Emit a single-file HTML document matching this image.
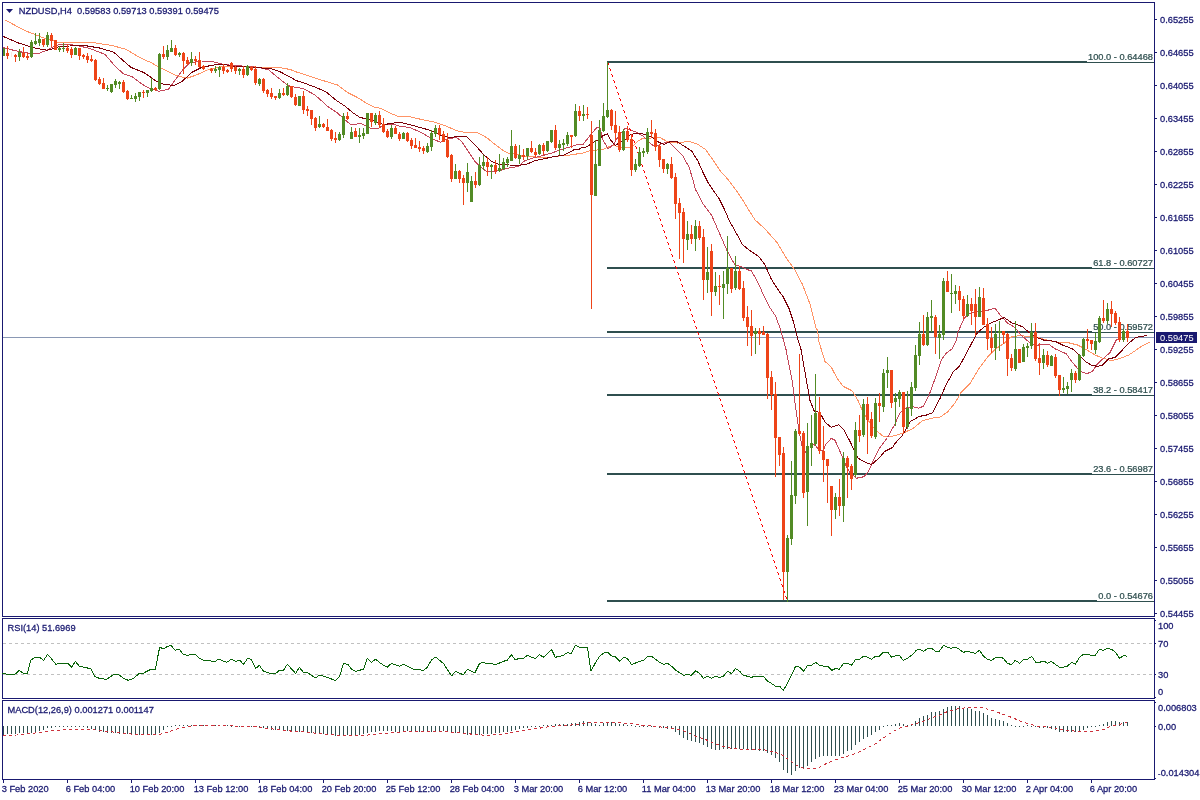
<!DOCTYPE html>
<html lang="en"><head><meta charset="utf-8"><title>NZDUSD,H4</title>
<style>html,body{margin:0;padding:0;background:#fff;}body{width:1200px;height:800px;overflow:hidden;font-family:"Liberation Sans",Arial,sans-serif;}svg{display:block}</style>
</head><body>
<svg width="1200" height="800" viewBox="0 0 1200 800" font-family="'Liberation Sans', Arial, sans-serif">
<defs><clipPath id="cm"><rect x="3" y="3" width="1151" height="613"/></clipPath></defs>
<rect x="2" y="2" width="1153" height="1" fill="#191970"/>
<rect x="2" y="616" width="1153" height="1" fill="#191970"/>
<rect x="2" y="2" width="1" height="615" fill="#191970"/>
<rect x="1154" y="2" width="1" height="615" fill="#191970"/>
<rect x="2" y="618" width="1153" height="1" fill="#191970"/>
<rect x="2" y="698" width="1153" height="1" fill="#191970"/>
<rect x="2" y="618" width="1" height="81" fill="#191970"/>
<rect x="1154" y="618" width="1" height="81" fill="#191970"/>
<rect x="2" y="700" width="1153" height="1" fill="#191970"/>
<rect x="2" y="779" width="1153" height="1" fill="#191970"/>
<rect x="2" y="700" width="1" height="80" fill="#191970"/>
<rect x="1154" y="700" width="1" height="80" fill="#191970"/>
<g clip-path="url(#cm)">
<rect x="3" y="337" width="1151" height="1" fill="#8A98B4"/>
<rect x="607" y="61" width="480" height="2" fill="#2F4F4F" shape-rendering="crispEdges"/>
<rect x="1087" y="62" width="67" height="1" fill="#2F4F4F" shape-rendering="crispEdges"/>
<rect x="607" y="267" width="485" height="2" fill="#2F4F4F" shape-rendering="crispEdges"/>
<rect x="1092" y="268" width="62" height="1" fill="#2F4F4F" shape-rendering="crispEdges"/>
<rect x="607" y="331" width="485" height="2" fill="#2F4F4F" shape-rendering="crispEdges"/>
<rect x="1092" y="332" width="62" height="1" fill="#2F4F4F" shape-rendering="crispEdges"/>
<rect x="607" y="394" width="485" height="2" fill="#2F4F4F" shape-rendering="crispEdges"/>
<rect x="1092" y="395" width="62" height="1" fill="#2F4F4F" shape-rendering="crispEdges"/>
<rect x="607" y="473" width="485" height="2" fill="#2F4F4F" shape-rendering="crispEdges"/>
<rect x="1092" y="474" width="62" height="1" fill="#2F4F4F" shape-rendering="crispEdges"/>
<rect x="607" y="600" width="490" height="2" fill="#2F4F4F" shape-rendering="crispEdges"/>
<rect x="1097" y="601" width="57" height="1" fill="#2F4F4F" shape-rendering="crispEdges"/>
<g fill="#2F4F4F" stroke="#2F4F4F" stroke-width="0.25" font-size="9.6px"><text transform="translate(1153,60.1) scale(0.967,1)" text-anchor="end">100.0 - 0.64468</text><text transform="translate(1153,266.1) scale(0.967,1)" text-anchor="end">61.8 - 0.60727</text><text transform="translate(1153,330.1) scale(0.967,1)" text-anchor="end">50.0 - 0.59572</text><text transform="translate(1153,393.1) scale(0.967,1)" text-anchor="end">38.2 - 0.58417</text><text transform="translate(1153,472.1) scale(0.967,1)" text-anchor="end">23.6 - 0.56987</text><text transform="translate(1153,599.1) scale(0.967,1)" text-anchor="end">0.0 - 0.54676</text></g>
<polyline points="5.0,20.0 25.0,30.6 42.5,37.5 58.8,42.5 75.0,42.2 92.5,42.5 112.5,45.6 126.2,49.4 137.5,56.2 147.5,61.2 149.8,61.9 158.5,66.9 176.0,75.6 187.2,78.1 196.0,75.2 208.5,69.4 221.0,66.9 233.5,66.2 246.0,66.5 258.5,67.2 271.0,67.5 283.5,68.1 291.0,69.8 296.2,71.9 302.5,73.8 315.0,78.1 327.5,81.9 337.5,85.0 347.5,92.5 357.5,97.5 367.5,103.8 375.0,107.5 380.0,108.1 390.0,113.1 397.5,116.2 408.8,116.5 421.2,119.4 433.8,121.9 441.5,124.4 446.5,126.2 456.5,130.6 465.2,132.5 476.5,132.2 486.5,137.5 496.5,145.6 504.0,151.2 509.0,153.5 515.2,153.8 524.0,156.9 534.0,156.9 546.5,157.8 559.0,156.0 566.5,155.6 577.8,153.8 583.0,153.1 590.5,150.6 603.0,149.4 613.0,145.0 619.2,146.9 630.5,148.1 638.0,141.2 643.0,138.1 650.5,138.1 659.2,137.2 668.0,141.9 678.0,143.1 688.0,141.2 696.8,143.8 705.5,149.4 713.0,160.0 720.5,171.2 728.0,179.4 738.0,193.0 744.0,202.0 750.0,212.1 755.2,220.0 765.0,229.0 777.0,242.5 786.0,257.5 795.0,270.2 802.5,284.5 810.0,304.0 816.0,328.0 817.5,330.0 819.0,342.0 825.0,361.5 831.0,366.7 837.0,378.0 843.0,386.2 852.0,390.7 858.0,400.5 862.5,411.0 870.0,423.0 876.0,430.5 883.5,436.5 891.0,436.5 897.0,435.0 904.0,432.7 913.0,428.5 922.0,421.0 931.0,418.3 940.0,417.2 947.5,412.0 955.0,403.0 961.0,392.5 970.0,383.5 979.0,368.5 988.0,356.5 995.5,349.0 1004.5,343.0 1006.0,341.7 1012.0,336.5 1019.5,335.7 1030.0,336.5 1037.5,337.2 1045.0,339.5 1055.0,341.9 1067.5,342.5 1077.5,345.0 1085.0,348.8 1095.0,355.0 1102.5,358.1 1111.2,360.6 1120.0,358.5 1128.8,355.0 1136.2,350.0 1142.5,345.6 1150.6,341.9" fill="none" stroke="#FF9466" stroke-width="1" stroke-linejoin="round" shape-rendering="crispEdges"/>
<polyline points="2.5,47.2 12.5,50.0 25.0,52.8 37.5,53.8 45.0,51.0 52.5,47.2 60.0,44.4 68.8,44.4 77.5,45.6 90.0,48.5 105.0,54.4 115.0,66.2 123.8,74.0 132.5,76.9 142.5,84.4 148.5,87.8 158.5,91.2 168.5,89.4 176.0,78.8 183.5,68.8 189.8,62.8 201.0,61.0 211.0,61.2 221.0,63.8 233.5,65.6 246.0,66.2 258.5,67.5 268.5,69.8 278.5,78.1 287.2,84.8 290.0,86.2 303.8,88.8 315.0,95.0 327.5,106.2 337.5,113.1 343.8,118.8 351.2,125.0 356.2,124.4 360.0,123.1 365.0,125.6 371.2,128.8 377.5,128.8 383.8,125.0 392.5,124.0 400.0,126.2 410.0,127.5 421.2,132.5 430.0,137.5 434.0,139.4 440.2,142.2 447.8,138.8 456.5,137.5 461.5,141.2 469.0,152.5 475.2,161.9 481.5,167.5 486.5,171.5 492.8,171.9 501.5,170.0 509.0,168.1 519.0,166.2 524.0,161.2 531.5,158.5 540.2,156.2 551.5,153.1 561.5,149.4 570.2,146.9 576.5,144.8 578.0,144.4 583.0,144.4 590.5,135.0 596.8,127.5 599.9,128.1 603.0,140.0 608.0,148.8 613.0,145.0 619.2,135.0 625.5,128.1 630.5,129.8 636.8,132.5 643.0,136.2 650.5,143.8 655.5,146.9 663.0,143.1 669.2,142.5 675.5,148.8 683.0,156.2 689.2,167.5 693.0,180.0 695.5,190.0 696.8,191.2 703.0,203.8 711.8,215.6 718.0,230.0 727.5,251.5 735.0,265.0 740.2,266.2 746.2,269.2 751.5,271.0 757.5,281.5 763.5,295.0 769.5,307.0 775.5,316.0 780.0,328.0 780.7,330.0 786.0,349.5 792.0,379.5 796.5,414.0 797.5,420.0 799.0,431.3 802.0,445.5 805.0,452.6 809.5,448.5 812.5,444.0 815.5,445.5 819.3,450.8 823.0,450.8 826.0,444.0 831.3,438.4 835.0,440.3 838.8,448.5 842.5,457.5 846.3,466.5 850.0,472.5 856.5,478.2 864.0,476.7 868.5,471.5 873.0,461.0 879.0,449.0 887.5,437.5 895.0,424.0 899.5,413.5 905.5,408.2 913.0,406.7 919.0,408.2 923.5,406.0 929.5,394.0 935.5,377.5 941.5,359.5 946.0,353.5 952.0,349.0 956.5,340.0 958.0,332.0 964.0,318.5 970.0,313.2 979.0,311.7 988.0,310.2 994.7,308.0 1000.0,314.7 1007.5,323.0 1015.0,327.5 1021.0,335.0 1028.5,341.7 1036.0,345.5 1042.0,344.3 1049.5,344.7 1055.0,348.8 1066.2,353.8 1072.5,362.5 1080.0,371.2 1086.9,373.8 1092.5,371.2 1097.5,363.8 1103.8,358.1 1110.0,352.5 1116.2,340.0 1120.0,338.1" fill="none" stroke="#C4485A" stroke-width="1" stroke-linejoin="round" shape-rendering="crispEdges"/>
<polyline points="2.5,36.2 18.8,43.1 35.0,48.1 47.5,50.2 55.0,48.1 60.0,46.2 70.0,46.0 85.0,45.6 100.0,48.1 113.8,52.2 122.5,60.0 131.2,67.5 143.8,72.5 148.5,75.6 156.0,81.2 164.8,84.8 174.8,85.2 182.2,81.2 192.2,72.2 201.0,67.8 211.0,65.4 221.0,64.0 233.5,66.2 246.0,66.9 258.5,67.8 271.0,68.5 281.0,72.2 289.8,76.9 296.2,80.6 306.2,83.8 317.5,88.1 326.2,91.9 335.0,99.4 345.0,106.2 352.5,112.5 360.0,117.5 365.0,118.5 370.0,119.4 377.5,122.5 383.8,124.8 390.0,123.5 400.0,122.2 408.8,124.4 421.2,127.8 431.2,130.6 436.5,133.5 441.5,135.6 450.2,137.5 457.1,136.5 466.5,136.5 475.2,145.0 484.0,155.0 491.5,161.2 499.0,164.4 509.0,165.0 519.0,165.2 526.5,164.4 534.0,161.0 542.8,159.0 552.8,156.9 564.0,155.0 574.0,149.8 579.0,149.5 580.5,148.1 586.8,146.9 593.0,142.5 599.2,139.4 603.0,135.6 607.4,133.8 610.5,140.0 615.5,145.6 619.2,142.5 625.5,139.4 630.5,134.4 638.0,133.1 645.5,134.4 653.0,138.1 659.2,142.5 664.2,144.4 670.5,141.5 676.8,141.5 684.2,146.2 691.8,151.2 698.0,161.2 703.0,172.5 708.0,182.5 713.0,190.0 719.2,198.8 724.2,208.8 729.0,220.0 736.5,233.5 742.5,244.7 750.0,250.7 759.0,256.7 765.0,265.0 771.0,278.5 777.0,288.2 783.0,296.5 789.0,308.5 793.5,322.0 798.0,340.0 801.0,349.5 805.5,375.0 810.0,400.5 814.5,411.7 819.7,412.2 825.0,422.2 831.0,427.2 838.5,424.8 844.5,430.8 850.5,442.5 853.5,449.0 858.0,458.0 864.0,461.7 871.5,464.7 879.0,458.0 885.0,451.2 892.5,447.5 895.0,443.5 902.5,435.2 910.0,421.7 919.0,416.5 926.5,415.0 932.5,412.7 940.0,398.5 946.0,385.0 953.5,371.5 959.5,366.2 965.5,355.0 973.0,340.7 977.5,332.7 983.5,327.5 991.0,323.0 1000.0,319.2 1004.5,317.7 1012.0,323.0 1022.5,326.7 1028.5,332.0 1036.0,337.2 1045.0,340.6 1055.0,341.2 1062.5,345.0 1072.5,348.8 1078.8,355.0 1085.0,361.2 1091.2,365.0 1097.5,366.5 1102.5,365.0 1108.8,358.8 1115.0,357.5 1121.2,351.2 1128.8,343.1 1136.2,337.2 1142.5,336.5 1146.9,335.2" fill="none" stroke="#7A0008" stroke-width="1" stroke-linejoin="round" shape-rendering="crispEdges"/>
<g fill="#FF0000" shape-rendering="crispEdges"><rect x="607" y="62" width="1" height="1"/><rect x="608" y="63" width="1" height="2"/><rect x="609" y="68" width="1" height="1"/><rect x="610" y="69" width="1" height="2"/><rect x="611" y="74" width="1" height="1"/><rect x="612" y="75" width="1" height="2"/><rect x="613" y="80" width="1" height="1"/><rect x="614" y="81" width="1" height="2"/><rect x="615" y="86" width="1" height="1"/><rect x="616" y="87" width="1" height="2"/><rect x="617" y="92" width="1" height="1"/><rect x="618" y="93" width="1" height="2"/><rect x="619" y="98" width="1" height="1"/><rect x="620" y="99" width="1" height="2"/><rect x="621" y="104" width="1" height="1"/><rect x="622" y="105" width="1" height="2"/><rect x="623" y="110" width="1" height="1"/><rect x="624" y="111" width="1" height="2"/><rect x="625" y="116" width="1" height="1"/><rect x="626" y="117" width="1" height="2"/><rect x="627" y="122" width="1" height="1"/><rect x="628" y="123" width="1" height="2"/><rect x="629" y="128" width="1" height="1"/><rect x="630" y="129" width="1" height="2"/><rect x="631" y="134" width="1" height="1"/><rect x="632" y="135" width="1" height="2"/><rect x="633" y="140" width="1" height="1"/><rect x="634" y="141" width="1" height="2"/><rect x="635" y="146" width="1" height="1"/><rect x="636" y="147" width="1" height="2"/><rect x="637" y="152" width="1" height="1"/><rect x="638" y="153" width="1" height="2"/><rect x="639" y="158" width="1" height="1"/><rect x="640" y="159" width="1" height="2"/><rect x="641" y="164" width="1" height="1"/><rect x="642" y="165" width="1" height="2"/><rect x="643" y="170" width="1" height="1"/><rect x="644" y="171" width="1" height="2"/><rect x="645" y="176" width="1" height="1"/><rect x="646" y="177" width="1" height="2"/><rect x="647" y="182" width="1" height="1"/><rect x="648" y="183" width="1" height="2"/><rect x="649" y="188" width="1" height="1"/><rect x="650" y="189" width="1" height="2"/><rect x="651" y="194" width="1" height="1"/><rect x="652" y="195" width="1" height="2"/><rect x="653" y="200" width="1" height="1"/><rect x="654" y="201" width="1" height="2"/><rect x="655" y="206" width="1" height="1"/><rect x="656" y="207" width="1" height="2"/><rect x="657" y="212" width="1" height="1"/><rect x="658" y="213" width="1" height="2"/><rect x="659" y="218" width="1" height="1"/><rect x="660" y="219" width="1" height="2"/><rect x="661" y="224" width="1" height="1"/><rect x="662" y="225" width="1" height="2"/><rect x="663" y="230" width="1" height="1"/><rect x="664" y="231" width="1" height="2"/><rect x="665" y="236" width="1" height="1"/><rect x="666" y="237" width="1" height="2"/><rect x="667" y="242" width="1" height="1"/><rect x="668" y="243" width="1" height="2"/><rect x="669" y="248" width="1" height="1"/><rect x="670" y="249" width="1" height="2"/><rect x="671" y="254" width="1" height="1"/><rect x="672" y="255" width="1" height="2"/><rect x="673" y="260" width="1" height="1"/><rect x="674" y="261" width="1" height="2"/><rect x="675" y="266" width="1" height="1"/><rect x="676" y="267" width="1" height="2"/><rect x="677" y="272" width="1" height="1"/><rect x="678" y="273" width="1" height="2"/><rect x="679" y="278" width="1" height="1"/><rect x="680" y="279" width="1" height="2"/><rect x="681" y="284" width="1" height="1"/><rect x="682" y="285" width="1" height="2"/><rect x="683" y="290" width="1" height="1"/><rect x="684" y="291" width="1" height="2"/><rect x="685" y="296" width="1" height="1"/><rect x="686" y="297" width="1" height="2"/><rect x="687" y="302" width="1" height="1"/><rect x="688" y="303" width="1" height="2"/><rect x="689" y="308" width="1" height="1"/><rect x="690" y="309" width="1" height="2"/><rect x="691" y="314" width="1" height="1"/><rect x="692" y="315" width="1" height="2"/><rect x="693" y="320" width="1" height="1"/><rect x="694" y="321" width="1" height="2"/><rect x="695" y="326" width="1" height="1"/><rect x="696" y="327" width="1" height="2"/><rect x="697" y="332" width="1" height="1"/><rect x="698" y="333" width="1" height="2"/><rect x="699" y="338" width="1" height="1"/><rect x="700" y="339" width="1" height="2"/><rect x="701" y="344" width="1" height="1"/><rect x="702" y="345" width="1" height="2"/><rect x="703" y="350" width="1" height="1"/><rect x="704" y="351" width="1" height="2"/><rect x="705" y="356" width="1" height="1"/><rect x="706" y="357" width="1" height="2"/><rect x="707" y="362" width="1" height="1"/><rect x="708" y="363" width="1" height="2"/><rect x="709" y="368" width="1" height="1"/><rect x="710" y="369" width="1" height="2"/><rect x="711" y="374" width="1" height="1"/><rect x="712" y="375" width="1" height="2"/><rect x="713" y="380" width="1" height="1"/><rect x="714" y="381" width="1" height="2"/><rect x="715" y="386" width="1" height="1"/><rect x="716" y="387" width="1" height="2"/><rect x="717" y="392" width="1" height="1"/><rect x="718" y="393" width="1" height="2"/><rect x="719" y="398" width="1" height="1"/><rect x="720" y="399" width="1" height="2"/><rect x="721" y="404" width="1" height="1"/><rect x="722" y="405" width="1" height="2"/><rect x="723" y="410" width="1" height="1"/><rect x="724" y="411" width="1" height="2"/><rect x="725" y="416" width="1" height="1"/><rect x="726" y="417" width="1" height="2"/><rect x="727" y="422" width="1" height="1"/><rect x="728" y="423" width="1" height="2"/><rect x="729" y="428" width="1" height="1"/><rect x="730" y="429" width="1" height="2"/><rect x="731" y="434" width="1" height="1"/><rect x="732" y="435" width="1" height="2"/><rect x="733" y="440" width="1" height="1"/><rect x="734" y="441" width="1" height="2"/><rect x="735" y="446" width="1" height="1"/><rect x="736" y="447" width="1" height="2"/><rect x="737" y="452" width="1" height="1"/><rect x="738" y="453" width="1" height="2"/><rect x="739" y="458" width="1" height="1"/><rect x="740" y="459" width="1" height="2"/><rect x="741" y="464" width="1" height="1"/><rect x="742" y="465" width="1" height="2"/><rect x="743" y="470" width="1" height="1"/><rect x="744" y="471" width="1" height="2"/><rect x="745" y="476" width="1" height="1"/><rect x="746" y="477" width="1" height="2"/><rect x="747" y="482" width="1" height="1"/><rect x="748" y="483" width="1" height="2"/><rect x="749" y="488" width="1" height="1"/><rect x="750" y="489" width="1" height="2"/><rect x="751" y="494" width="1" height="1"/><rect x="752" y="495" width="1" height="2"/><rect x="753" y="500" width="1" height="1"/><rect x="754" y="501" width="1" height="2"/><rect x="755" y="506" width="1" height="1"/><rect x="756" y="507" width="1" height="2"/><rect x="757" y="512" width="1" height="1"/><rect x="758" y="513" width="1" height="2"/><rect x="759" y="518" width="1" height="1"/><rect x="760" y="519" width="1" height="2"/><rect x="761" y="524" width="1" height="1"/><rect x="762" y="525" width="1" height="2"/><rect x="763" y="530" width="1" height="1"/><rect x="764" y="531" width="1" height="2"/><rect x="765" y="536" width="1" height="1"/><rect x="766" y="537" width="1" height="2"/><rect x="767" y="542" width="1" height="1"/><rect x="768" y="543" width="1" height="2"/><rect x="769" y="548" width="1" height="1"/><rect x="770" y="549" width="1" height="2"/><rect x="771" y="554" width="1" height="1"/><rect x="772" y="555" width="1" height="2"/><rect x="773" y="560" width="1" height="1"/><rect x="774" y="561" width="1" height="2"/><rect x="775" y="566" width="1" height="1"/><rect x="776" y="567" width="1" height="2"/><rect x="777" y="572" width="1" height="1"/><rect x="778" y="573" width="1" height="2"/><rect x="779" y="578" width="1" height="1"/><rect x="780" y="579" width="1" height="2"/><rect x="781" y="584" width="1" height="1"/><rect x="782" y="585" width="1" height="2"/><rect x="783" y="590" width="1" height="1"/><rect x="784" y="591" width="1" height="2"/><rect x="785" y="596" width="1" height="1"/><rect x="786" y="597" width="1" height="2"/></g>
<g shape-rendering="crispEdges"><rect x="3" y="48" width="1" height="8" fill="#528B25"/><rect x="2" y="48" width="3" height="8" fill="#528B25"/><rect x="7" y="46" width="1" height="13" fill="#EE4418"/><rect x="6" y="53" width="3" height="3" fill="#EE4418"/><rect x="15" y="54" width="1" height="8" fill="#EE4418"/><rect x="14" y="55" width="3" height="2" fill="#EE4418"/><rect x="19" y="49" width="1" height="12" fill="#528B25"/><rect x="18" y="52" width="3" height="5" fill="#528B25"/><rect x="23" y="47" width="1" height="11" fill="#EE4418"/><rect x="22" y="53" width="3" height="4" fill="#EE4418"/><rect x="27" y="53" width="1" height="7" fill="#EE4418"/><rect x="26" y="56" width="3" height="2" fill="#EE4418"/><rect x="31" y="40" width="1" height="18" fill="#528B25"/><rect x="30" y="42" width="3" height="15" fill="#528B25"/><rect x="35" y="33" width="1" height="12" fill="#528B25"/><rect x="34" y="41" width="3" height="3" fill="#528B25"/><rect x="39" y="33" width="1" height="13" fill="#528B25"/><rect x="38" y="39" width="3" height="4" fill="#528B25"/><rect x="43" y="39" width="1" height="8" fill="#EE4418"/><rect x="42" y="39" width="3" height="6" fill="#EE4418"/><rect x="47" y="32" width="1" height="15" fill="#528B25"/><rect x="46" y="35" width="3" height="10" fill="#528B25"/><rect x="51" y="33" width="1" height="14" fill="#EE4418"/><rect x="50" y="35" width="3" height="6" fill="#EE4418"/><rect x="55" y="40" width="1" height="10" fill="#EE4418"/><rect x="54" y="40" width="3" height="10" fill="#EE4418"/><rect x="59" y="46" width="1" height="6" fill="#528B25"/><rect x="58" y="48" width="3" height="2" fill="#528B25"/><rect x="63" y="43" width="1" height="9" fill="#528B25"/><rect x="62" y="48" width="3" height="1" fill="#528B25"/><rect x="67" y="44" width="1" height="9" fill="#EE4418"/><rect x="66" y="48" width="3" height="3" fill="#EE4418"/><rect x="71" y="47" width="1" height="11" fill="#EE4418"/><rect x="70" y="49" width="3" height="6" fill="#EE4418"/><rect x="75" y="47" width="1" height="8" fill="#528B25"/><rect x="74" y="48" width="3" height="7" fill="#528B25"/><rect x="79" y="48" width="1" height="12" fill="#EE4418"/><rect x="78" y="48" width="3" height="8" fill="#EE4418"/><rect x="83" y="54" width="1" height="5" fill="#EE4418"/><rect x="82" y="55" width="3" height="2" fill="#EE4418"/><rect x="87" y="53" width="1" height="10" fill="#EE4418"/><rect x="86" y="56" width="3" height="4" fill="#EE4418"/><rect x="91" y="55" width="1" height="7" fill="#EE4418"/><rect x="90" y="59" width="3" height="2" fill="#EE4418"/><rect x="95" y="59" width="1" height="22" fill="#EE4418"/><rect x="94" y="60" width="3" height="20" fill="#EE4418"/><rect x="99" y="77" width="1" height="8" fill="#EE4418"/><rect x="98" y="79" width="3" height="5" fill="#EE4418"/><rect x="103" y="78" width="1" height="11" fill="#EE4418"/><rect x="102" y="83" width="3" height="6" fill="#EE4418"/><rect x="107" y="85" width="1" height="6" fill="#528B25"/><rect x="106" y="88" width="3" height="1" fill="#528B25"/><rect x="111" y="84" width="1" height="9" fill="#528B25"/><rect x="110" y="84" width="3" height="8" fill="#528B25"/><rect x="115" y="79" width="1" height="9" fill="#528B25"/><rect x="114" y="81" width="3" height="4" fill="#528B25"/><rect x="119" y="81" width="1" height="8" fill="#528B25"/><rect x="118" y="82" width="3" height="2" fill="#528B25"/><rect x="123" y="80" width="1" height="13" fill="#EE4418"/><rect x="122" y="82" width="3" height="10" fill="#EE4418"/><rect x="127" y="90" width="1" height="10" fill="#EE4418"/><rect x="126" y="91" width="3" height="8" fill="#EE4418"/><rect x="131" y="95" width="1" height="4" fill="#528B25"/><rect x="130" y="98" width="3" height="1" fill="#528B25"/><rect x="135" y="93" width="1" height="9" fill="#528B25"/><rect x="134" y="96" width="3" height="3" fill="#528B25"/><rect x="139" y="92" width="1" height="9" fill="#528B25"/><rect x="138" y="92" width="3" height="5" fill="#528B25"/><rect x="143" y="90" width="1" height="8" fill="#EE4418"/><rect x="142" y="92" width="3" height="1" fill="#EE4418"/><rect x="147" y="90" width="1" height="7" fill="#528B25"/><rect x="146" y="90" width="3" height="3" fill="#528B25"/><rect x="151" y="78" width="1" height="14" fill="#528B25"/><rect x="150" y="88" width="3" height="3" fill="#528B25"/><rect x="155" y="87" width="1" height="4" fill="#EE4418"/><rect x="154" y="88" width="3" height="2" fill="#EE4418"/><rect x="159" y="53" width="1" height="37" fill="#528B25"/><rect x="158" y="54" width="3" height="35" fill="#528B25"/><rect x="163" y="46" width="1" height="13" fill="#EE4418"/><rect x="162" y="54" width="3" height="3" fill="#EE4418"/><rect x="167" y="45" width="1" height="15" fill="#528B25"/><rect x="166" y="50" width="3" height="7" fill="#528B25"/><rect x="171" y="40" width="1" height="12" fill="#528B25"/><rect x="170" y="48" width="3" height="4" fill="#528B25"/><rect x="175" y="45" width="1" height="11" fill="#EE4418"/><rect x="174" y="48" width="3" height="7" fill="#EE4418"/><rect x="179" y="52" width="1" height="5" fill="#528B25"/><rect x="178" y="53" width="3" height="2" fill="#528B25"/><rect x="183" y="52" width="1" height="22" fill="#EE4418"/><rect x="182" y="53" width="3" height="8" fill="#EE4418"/><rect x="187" y="57" width="1" height="8" fill="#EE4418"/><rect x="186" y="60" width="3" height="4" fill="#EE4418"/><rect x="191" y="52" width="1" height="14" fill="#528B25"/><rect x="190" y="59" width="3" height="4" fill="#528B25"/><rect x="195" y="56" width="1" height="9" fill="#EE4418"/><rect x="194" y="59" width="3" height="2" fill="#EE4418"/><rect x="199" y="52" width="1" height="16" fill="#EE4418"/><rect x="198" y="60" width="3" height="7" fill="#EE4418"/><rect x="203" y="65" width="1" height="5" fill="#EE4418"/><rect x="202" y="66" width="3" height="3" fill="#EE4418"/><rect x="211" y="68" width="1" height="5" fill="#EE4418"/><rect x="210" y="69" width="3" height="2" fill="#EE4418"/><rect x="215" y="66" width="1" height="7" fill="#528B25"/><rect x="214" y="69" width="3" height="2" fill="#528B25"/><rect x="219" y="66" width="1" height="11" fill="#528B25"/><rect x="218" y="67" width="3" height="3" fill="#528B25"/><rect x="223" y="64" width="1" height="10" fill="#EE4418"/><rect x="222" y="67" width="3" height="4" fill="#EE4418"/><rect x="227" y="69" width="1" height="4" fill="#EE4418"/><rect x="226" y="70" width="3" height="2" fill="#EE4418"/><rect x="231" y="62" width="1" height="10" fill="#EE4418"/><rect x="230" y="63" width="3" height="6" fill="#EE4418"/><rect x="235" y="66" width="1" height="8" fill="#EE4418"/><rect x="234" y="67" width="3" height="4" fill="#EE4418"/><rect x="239" y="68" width="1" height="7" fill="#528B25"/><rect x="238" y="69" width="3" height="2" fill="#528B25"/><rect x="243" y="66" width="1" height="12" fill="#EE4418"/><rect x="242" y="69" width="3" height="6" fill="#EE4418"/><rect x="247" y="65" width="1" height="11" fill="#528B25"/><rect x="246" y="66" width="3" height="9" fill="#528B25"/><rect x="251" y="66" width="1" height="5" fill="#EE4418"/><rect x="250" y="67" width="3" height="3" fill="#EE4418"/><rect x="255" y="66" width="1" height="19" fill="#EE4418"/><rect x="254" y="69" width="3" height="14" fill="#EE4418"/><rect x="259" y="78" width="1" height="8" fill="#528B25"/><rect x="258" y="79" width="3" height="5" fill="#528B25"/><rect x="263" y="78" width="1" height="15" fill="#EE4418"/><rect x="262" y="79" width="3" height="12" fill="#EE4418"/><rect x="267" y="89" width="1" height="8" fill="#EE4418"/><rect x="266" y="90" width="3" height="4" fill="#EE4418"/><rect x="271" y="88" width="1" height="11" fill="#EE4418"/><rect x="270" y="93" width="3" height="4" fill="#EE4418"/><rect x="275" y="96" width="1" height="4" fill="#EE4418"/><rect x="274" y="96" width="3" height="2" fill="#EE4418"/><rect x="279" y="89" width="1" height="10" fill="#528B25"/><rect x="278" y="93" width="3" height="5" fill="#528B25"/><rect x="283" y="88" width="1" height="8" fill="#EE4418"/><rect x="282" y="93" width="3" height="2" fill="#EE4418"/><rect x="287" y="83" width="1" height="13" fill="#528B25"/><rect x="286" y="86" width="3" height="9" fill="#528B25"/><rect x="291" y="86" width="1" height="12" fill="#EE4418"/><rect x="290" y="86" width="3" height="11" fill="#EE4418"/><rect x="295" y="94" width="1" height="12" fill="#EE4418"/><rect x="294" y="97" width="3" height="8" fill="#EE4418"/><rect x="299" y="96" width="1" height="10" fill="#528B25"/><rect x="298" y="96" width="3" height="10" fill="#528B25"/><rect x="303" y="91" width="1" height="23" fill="#EE4418"/><rect x="302" y="96" width="3" height="14" fill="#EE4418"/><rect x="307" y="106" width="1" height="10" fill="#EE4418"/><rect x="306" y="109" width="3" height="2" fill="#EE4418"/><rect x="311" y="110" width="1" height="15" fill="#EE4418"/><rect x="310" y="110" width="3" height="9" fill="#EE4418"/><rect x="315" y="117" width="1" height="14" fill="#EE4418"/><rect x="314" y="118" width="3" height="10" fill="#EE4418"/><rect x="319" y="116" width="1" height="12" fill="#528B25"/><rect x="318" y="124" width="3" height="3" fill="#528B25"/><rect x="323" y="123" width="1" height="5" fill="#EE4418"/><rect x="322" y="124" width="3" height="3" fill="#EE4418"/><rect x="327" y="119" width="1" height="12" fill="#EE4418"/><rect x="326" y="127" width="3" height="4" fill="#EE4418"/><rect x="331" y="129" width="1" height="12" fill="#EE4418"/><rect x="330" y="130" width="3" height="9" fill="#EE4418"/><rect x="335" y="132" width="1" height="11" fill="#EE4418"/><rect x="334" y="138" width="3" height="2" fill="#EE4418"/><rect x="339" y="132" width="1" height="9" fill="#528B25"/><rect x="338" y="134" width="3" height="6" fill="#528B25"/><rect x="343" y="113" width="1" height="25" fill="#528B25"/><rect x="342" y="116" width="3" height="19" fill="#528B25"/><rect x="347" y="112" width="1" height="8" fill="#EE4418"/><rect x="346" y="116" width="3" height="3" fill="#EE4418"/><rect x="351" y="127" width="1" height="12" fill="#528B25"/><rect x="350" y="132" width="3" height="7" fill="#528B25"/><rect x="355" y="128" width="1" height="9" fill="#EE4418"/><rect x="354" y="131" width="3" height="6" fill="#EE4418"/><rect x="359" y="128" width="1" height="15" fill="#528B25"/><rect x="358" y="135" width="3" height="2" fill="#528B25"/><rect x="363" y="128" width="1" height="11" fill="#528B25"/><rect x="362" y="133" width="3" height="3" fill="#528B25"/><rect x="367" y="113" width="1" height="21" fill="#528B25"/><rect x="366" y="113" width="3" height="21" fill="#528B25"/><rect x="371" y="113" width="1" height="14" fill="#EE4418"/><rect x="370" y="113" width="3" height="9" fill="#EE4418"/><rect x="375" y="113" width="1" height="12" fill="#528B25"/><rect x="374" y="115" width="3" height="8" fill="#528B25"/><rect x="379" y="111" width="1" height="17" fill="#EE4418"/><rect x="378" y="115" width="3" height="10" fill="#EE4418"/><rect x="383" y="118" width="1" height="15" fill="#EE4418"/><rect x="382" y="124" width="3" height="8" fill="#EE4418"/><rect x="387" y="129" width="1" height="9" fill="#EE4418"/><rect x="386" y="131" width="3" height="6" fill="#EE4418"/><rect x="391" y="125" width="1" height="14" fill="#528B25"/><rect x="390" y="128" width="3" height="9" fill="#528B25"/><rect x="395" y="126" width="1" height="8" fill="#EE4418"/><rect x="394" y="128" width="3" height="6" fill="#EE4418"/><rect x="399" y="132" width="1" height="9" fill="#EE4418"/><rect x="398" y="134" width="3" height="5" fill="#EE4418"/><rect x="403" y="132" width="1" height="7" fill="#528B25"/><rect x="402" y="133" width="3" height="6" fill="#528B25"/><rect x="407" y="132" width="1" height="10" fill="#EE4418"/><rect x="406" y="133" width="3" height="8" fill="#EE4418"/><rect x="411" y="138" width="1" height="11" fill="#EE4418"/><rect x="410" y="140" width="3" height="6" fill="#EE4418"/><rect x="415" y="138" width="1" height="10" fill="#EE4418"/><rect x="414" y="145" width="3" height="3" fill="#EE4418"/><rect x="419" y="141" width="1" height="11" fill="#EE4418"/><rect x="418" y="147" width="3" height="2" fill="#EE4418"/><rect x="423" y="146" width="1" height="8" fill="#EE4418"/><rect x="422" y="148" width="3" height="3" fill="#EE4418"/><rect x="427" y="143" width="1" height="10" fill="#528B25"/><rect x="426" y="146" width="3" height="6" fill="#528B25"/><rect x="431" y="130" width="1" height="21" fill="#528B25"/><rect x="430" y="133" width="3" height="14" fill="#528B25"/><rect x="435" y="125" width="1" height="12" fill="#528B25"/><rect x="434" y="128" width="3" height="6" fill="#528B25"/><rect x="439" y="125" width="1" height="15" fill="#EE4418"/><rect x="438" y="128" width="3" height="7" fill="#EE4418"/><rect x="443" y="131" width="1" height="11" fill="#EE4418"/><rect x="442" y="134" width="3" height="8" fill="#EE4418"/><rect x="447" y="133" width="1" height="25" fill="#EE4418"/><rect x="446" y="140" width="3" height="17" fill="#EE4418"/><rect x="451" y="154" width="1" height="28" fill="#EE4418"/><rect x="450" y="155" width="3" height="24" fill="#EE4418"/><rect x="455" y="164" width="1" height="15" fill="#528B25"/><rect x="454" y="171" width="3" height="8" fill="#528B25"/><rect x="459" y="170" width="1" height="13" fill="#EE4418"/><rect x="458" y="171" width="3" height="8" fill="#EE4418"/><rect x="463" y="175" width="1" height="30" fill="#EE4418"/><rect x="462" y="178" width="3" height="5" fill="#EE4418"/><rect x="467" y="163" width="1" height="29" fill="#528B25"/><rect x="466" y="172" width="3" height="11" fill="#528B25"/><rect x="471" y="176" width="1" height="26" fill="#528B25"/><rect x="470" y="181" width="3" height="21" fill="#528B25"/><rect x="475" y="172" width="1" height="16" fill="#EE4418"/><rect x="474" y="181" width="3" height="4" fill="#EE4418"/><rect x="479" y="157" width="1" height="29" fill="#528B25"/><rect x="478" y="165" width="3" height="20" fill="#528B25"/><rect x="483" y="155" width="1" height="15" fill="#528B25"/><rect x="482" y="162" width="3" height="4" fill="#528B25"/><rect x="487" y="157" width="1" height="19" fill="#EE4418"/><rect x="486" y="162" width="3" height="5" fill="#EE4418"/><rect x="491" y="164" width="1" height="15" fill="#528B25"/><rect x="490" y="165" width="3" height="2" fill="#528B25"/><rect x="495" y="160" width="1" height="14" fill="#EE4418"/><rect x="494" y="165" width="3" height="6" fill="#EE4418"/><rect x="499" y="154" width="1" height="18" fill="#528B25"/><rect x="498" y="168" width="3" height="3" fill="#528B25"/><rect x="503" y="158" width="1" height="12" fill="#528B25"/><rect x="502" y="162" width="3" height="7" fill="#528B25"/><rect x="507" y="157" width="1" height="10" fill="#528B25"/><rect x="506" y="159" width="3" height="4" fill="#528B25"/><rect x="511" y="130" width="1" height="31" fill="#528B25"/><rect x="510" y="146" width="3" height="15" fill="#528B25"/><rect x="515" y="144" width="1" height="15" fill="#EE4418"/><rect x="514" y="146" width="3" height="12" fill="#EE4418"/><rect x="519" y="145" width="1" height="19" fill="#528B25"/><rect x="518" y="155" width="3" height="4" fill="#528B25"/><rect x="523" y="149" width="1" height="11" fill="#EE4418"/><rect x="522" y="155" width="3" height="2" fill="#EE4418"/><rect x="527" y="148" width="1" height="12" fill="#528B25"/><rect x="526" y="148" width="3" height="8" fill="#528B25"/><rect x="531" y="141" width="1" height="12" fill="#EE4418"/><rect x="530" y="148" width="3" height="4" fill="#EE4418"/><rect x="535" y="148" width="1" height="10" fill="#EE4418"/><rect x="534" y="152" width="3" height="3" fill="#EE4418"/><rect x="539" y="144" width="1" height="11" fill="#528B25"/><rect x="538" y="145" width="3" height="9" fill="#528B25"/><rect x="543" y="143" width="1" height="12" fill="#EE4418"/><rect x="542" y="145" width="3" height="6" fill="#EE4418"/><rect x="547" y="141" width="1" height="11" fill="#528B25"/><rect x="546" y="141" width="3" height="10" fill="#528B25"/><rect x="551" y="130" width="1" height="13" fill="#528B25"/><rect x="550" y="130" width="3" height="12" fill="#528B25"/><rect x="555" y="125" width="1" height="25" fill="#EE4418"/><rect x="554" y="130" width="3" height="18" fill="#EE4418"/><rect x="559" y="140" width="1" height="15" fill="#528B25"/><rect x="558" y="144" width="3" height="4" fill="#528B25"/><rect x="563" y="139" width="1" height="12" fill="#528B25"/><rect x="562" y="143" width="3" height="2" fill="#528B25"/><rect x="567" y="132" width="1" height="14" fill="#528B25"/><rect x="566" y="135" width="3" height="9" fill="#528B25"/><rect x="571" y="135" width="1" height="13" fill="#EE4418"/><rect x="570" y="135" width="3" height="2" fill="#EE4418"/><rect x="575" y="104" width="1" height="33" fill="#528B25"/><rect x="574" y="111" width="3" height="25" fill="#528B25"/><rect x="579" y="106" width="1" height="15" fill="#EE4418"/><rect x="578" y="111" width="3" height="5" fill="#EE4418"/><rect x="583" y="105" width="1" height="16" fill="#528B25"/><rect x="582" y="114" width="3" height="2" fill="#528B25"/><rect x="587" y="107" width="1" height="12" fill="#EE4418"/><rect x="586" y="114" width="3" height="1" fill="#EE4418"/><rect x="591" y="121" width="1" height="188" fill="#EE4418"/><rect x="590" y="135" width="3" height="60" fill="#EE4418"/><rect x="595" y="140" width="1" height="56" fill="#528B25"/><rect x="594" y="164" width="3" height="32" fill="#528B25"/><rect x="599" y="120" width="1" height="46" fill="#528B25"/><rect x="598" y="130" width="3" height="36" fill="#528B25"/><rect x="603" y="103" width="1" height="29" fill="#528B25"/><rect x="602" y="116" width="3" height="15" fill="#528B25"/><rect x="607" y="62" width="1" height="56" fill="#528B25"/><rect x="606" y="110" width="3" height="7" fill="#528B25"/><rect x="611" y="109" width="1" height="21" fill="#EE4418"/><rect x="610" y="110" width="3" height="16" fill="#EE4418"/><rect x="615" y="111" width="1" height="29" fill="#EE4418"/><rect x="614" y="125" width="3" height="8" fill="#EE4418"/><rect x="619" y="126" width="1" height="26" fill="#EE4418"/><rect x="618" y="132" width="3" height="18" fill="#EE4418"/><rect x="623" y="129" width="1" height="22" fill="#528B25"/><rect x="622" y="131" width="3" height="19" fill="#528B25"/><rect x="627" y="126" width="1" height="16" fill="#EE4418"/><rect x="626" y="131" width="3" height="9" fill="#EE4418"/><rect x="631" y="134" width="1" height="42" fill="#EE4418"/><rect x="630" y="139" width="3" height="31" fill="#EE4418"/><rect x="635" y="159" width="1" height="13" fill="#528B25"/><rect x="634" y="164" width="3" height="6" fill="#528B25"/><rect x="639" y="147" width="1" height="20" fill="#528B25"/><rect x="638" y="152" width="3" height="14" fill="#528B25"/><rect x="643" y="148" width="1" height="9" fill="#528B25"/><rect x="642" y="151" width="3" height="2" fill="#528B25"/><rect x="647" y="128" width="1" height="26" fill="#528B25"/><rect x="646" y="132" width="3" height="20" fill="#528B25"/><rect x="651" y="120" width="1" height="18" fill="#EE4418"/><rect x="650" y="132" width="3" height="2" fill="#EE4418"/><rect x="655" y="129" width="1" height="22" fill="#EE4418"/><rect x="654" y="133" width="3" height="14" fill="#EE4418"/><rect x="659" y="144" width="1" height="23" fill="#EE4418"/><rect x="658" y="146" width="3" height="14" fill="#EE4418"/><rect x="663" y="159" width="1" height="14" fill="#EE4418"/><rect x="662" y="159" width="3" height="10" fill="#EE4418"/><rect x="667" y="163" width="1" height="11" fill="#528B25"/><rect x="666" y="164" width="3" height="5" fill="#528B25"/><rect x="671" y="157" width="1" height="22" fill="#EE4418"/><rect x="670" y="164" width="3" height="14" fill="#EE4418"/><rect x="675" y="173" width="1" height="46" fill="#EE4418"/><rect x="674" y="177" width="3" height="27" fill="#EE4418"/><rect x="679" y="198" width="1" height="61" fill="#EE4418"/><rect x="678" y="203" width="3" height="10" fill="#EE4418"/><rect x="683" y="208" width="1" height="55" fill="#EE4418"/><rect x="682" y="212" width="3" height="27" fill="#EE4418"/><rect x="687" y="221" width="1" height="29" fill="#528B25"/><rect x="686" y="234" width="3" height="6" fill="#528B25"/><rect x="691" y="225" width="1" height="19" fill="#EE4418"/><rect x="690" y="234" width="3" height="5" fill="#EE4418"/><rect x="695" y="220" width="1" height="31" fill="#528B25"/><rect x="694" y="226" width="3" height="13" fill="#528B25"/><rect x="699" y="221" width="1" height="19" fill="#EE4418"/><rect x="698" y="226" width="3" height="12" fill="#EE4418"/><rect x="703" y="229" width="1" height="71" fill="#EE4418"/><rect x="702" y="237" width="3" height="43" fill="#EE4418"/><rect x="707" y="247" width="1" height="46" fill="#528B25"/><rect x="706" y="272" width="3" height="8" fill="#528B25"/><rect x="711" y="244" width="1" height="72" fill="#EE4418"/><rect x="710" y="251" width="3" height="41" fill="#EE4418"/><rect x="715" y="272" width="1" height="24" fill="#528B25"/><rect x="714" y="286" width="3" height="6" fill="#528B25"/><rect x="719" y="275" width="1" height="30" fill="#EE4418"/><rect x="718" y="286" width="3" height="1" fill="#EE4418"/><rect x="723" y="271" width="1" height="48" fill="#528B25"/><rect x="722" y="284" width="3" height="4" fill="#528B25"/><rect x="727" y="236" width="1" height="58" fill="#528B25"/><rect x="726" y="268" width="3" height="16" fill="#528B25"/><rect x="731" y="268" width="1" height="25" fill="#EE4418"/><rect x="730" y="268" width="3" height="21" fill="#EE4418"/><rect x="735" y="256" width="1" height="34" fill="#528B25"/><rect x="734" y="271" width="3" height="17" fill="#528B25"/><rect x="739" y="266" width="1" height="24" fill="#EE4418"/><rect x="738" y="271" width="3" height="18" fill="#EE4418"/><rect x="743" y="281" width="1" height="40" fill="#EE4418"/><rect x="742" y="288" width="3" height="30" fill="#EE4418"/><rect x="747" y="306" width="1" height="40" fill="#EE4418"/><rect x="746" y="317" width="3" height="10" fill="#EE4418"/><rect x="751" y="310" width="1" height="46" fill="#EE4418"/><rect x="750" y="326" width="3" height="10" fill="#EE4418"/><rect x="755" y="328" width="1" height="26" fill="#528B25"/><rect x="754" y="331" width="3" height="3" fill="#528B25"/><rect x="759" y="328" width="1" height="17" fill="#EE4418"/><rect x="758" y="331" width="3" height="3" fill="#EE4418"/><rect x="763" y="326" width="1" height="9" fill="#EE4418"/><rect x="762" y="332" width="3" height="3" fill="#EE4418"/><rect x="767" y="333" width="1" height="66" fill="#EE4418"/><rect x="766" y="334" width="3" height="44" fill="#EE4418"/><rect x="771" y="371" width="1" height="39" fill="#EE4418"/><rect x="770" y="377" width="3" height="18" fill="#EE4418"/><rect x="775" y="382" width="1" height="95" fill="#EE4418"/><rect x="774" y="394" width="3" height="44" fill="#EE4418"/><rect x="779" y="437" width="1" height="29" fill="#EE4418"/><rect x="778" y="437" width="3" height="18" fill="#EE4418"/><rect x="783" y="447" width="1" height="153" fill="#EE4418"/><rect x="782" y="453" width="3" height="119" fill="#EE4418"/><rect x="787" y="535" width="1" height="67" fill="#528B25"/><rect x="786" y="538" width="3" height="34" fill="#528B25"/><rect x="791" y="461" width="1" height="84" fill="#528B25"/><rect x="790" y="495" width="3" height="44" fill="#528B25"/><rect x="795" y="429" width="1" height="75" fill="#528B25"/><rect x="794" y="431" width="3" height="65" fill="#528B25"/><rect x="799" y="354" width="1" height="81" fill="#EE4418"/><rect x="798" y="431" width="3" height="3" fill="#EE4418"/><rect x="803" y="431" width="1" height="67" fill="#EE4418"/><rect x="802" y="433" width="3" height="60" fill="#EE4418"/><rect x="807" y="423" width="1" height="103" fill="#528B25"/><rect x="806" y="446" width="3" height="46" fill="#528B25"/><rect x="811" y="415" width="1" height="51" fill="#528B25"/><rect x="810" y="443" width="3" height="5" fill="#528B25"/><rect x="815" y="374" width="1" height="72" fill="#528B25"/><rect x="814" y="413" width="3" height="31" fill="#528B25"/><rect x="819" y="397" width="1" height="57" fill="#EE4418"/><rect x="818" y="412" width="3" height="39" fill="#EE4418"/><rect x="823" y="426" width="1" height="56" fill="#EE4418"/><rect x="822" y="451" width="3" height="9" fill="#EE4418"/><rect x="827" y="459" width="1" height="44" fill="#EE4418"/><rect x="826" y="459" width="3" height="7" fill="#EE4418"/><rect x="831" y="486" width="1" height="50" fill="#EE4418"/><rect x="830" y="486" width="3" height="24" fill="#EE4418"/><rect x="835" y="493" width="1" height="26" fill="#528B25"/><rect x="834" y="497" width="3" height="13" fill="#528B25"/><rect x="839" y="479" width="1" height="37" fill="#EE4418"/><rect x="838" y="497" width="3" height="9" fill="#EE4418"/><rect x="843" y="452" width="1" height="70" fill="#528B25"/><rect x="842" y="458" width="3" height="48" fill="#528B25"/><rect x="847" y="456" width="1" height="42" fill="#EE4418"/><rect x="846" y="458" width="3" height="9" fill="#EE4418"/><rect x="851" y="464" width="1" height="26" fill="#EE4418"/><rect x="850" y="466" width="3" height="13" fill="#EE4418"/><rect x="855" y="422" width="1" height="55" fill="#528B25"/><rect x="854" y="430" width="3" height="45" fill="#528B25"/><rect x="859" y="415" width="1" height="27" fill="#EE4418"/><rect x="858" y="430" width="3" height="6" fill="#EE4418"/><rect x="863" y="399" width="1" height="38" fill="#528B25"/><rect x="862" y="404" width="3" height="31" fill="#528B25"/><rect x="867" y="397" width="1" height="57" fill="#EE4418"/><rect x="866" y="404" width="3" height="16" fill="#EE4418"/><rect x="871" y="412" width="1" height="26" fill="#EE4418"/><rect x="870" y="419" width="3" height="17" fill="#EE4418"/><rect x="875" y="398" width="1" height="41" fill="#528B25"/><rect x="874" y="403" width="3" height="34" fill="#528B25"/><rect x="879" y="393" width="1" height="29" fill="#EE4418"/><rect x="878" y="403" width="3" height="3" fill="#EE4418"/><rect x="883" y="369" width="1" height="43" fill="#528B25"/><rect x="882" y="373" width="3" height="34" fill="#528B25"/><rect x="887" y="357" width="1" height="31" fill="#528B25"/><rect x="886" y="370" width="3" height="3" fill="#528B25"/><rect x="891" y="370" width="1" height="38" fill="#EE4418"/><rect x="890" y="370" width="3" height="33" fill="#EE4418"/><rect x="895" y="393" width="1" height="33" fill="#528B25"/><rect x="894" y="398" width="3" height="4" fill="#528B25"/><rect x="899" y="390" width="1" height="17" fill="#528B25"/><rect x="898" y="392" width="3" height="7" fill="#528B25"/><rect x="903" y="392" width="1" height="42" fill="#EE4418"/><rect x="902" y="392" width="3" height="35" fill="#EE4418"/><rect x="907" y="391" width="1" height="38" fill="#528B25"/><rect x="906" y="408" width="3" height="19" fill="#528B25"/><rect x="911" y="382" width="1" height="34" fill="#528B25"/><rect x="910" y="387" width="3" height="22" fill="#528B25"/><rect x="915" y="345" width="1" height="46" fill="#528B25"/><rect x="914" y="355" width="3" height="33" fill="#528B25"/><rect x="919" y="322" width="1" height="43" fill="#528B25"/><rect x="918" y="334" width="3" height="22" fill="#528B25"/><rect x="923" y="315" width="1" height="31" fill="#EE4418"/><rect x="922" y="334" width="3" height="11" fill="#EE4418"/><rect x="927" y="312" width="1" height="34" fill="#528B25"/><rect x="926" y="317" width="3" height="28" fill="#528B25"/><rect x="931" y="300" width="1" height="32" fill="#528B25"/><rect x="930" y="316" width="3" height="2" fill="#528B25"/><rect x="935" y="315" width="1" height="39" fill="#EE4418"/><rect x="934" y="317" width="3" height="20" fill="#EE4418"/><rect x="939" y="325" width="1" height="34" fill="#528B25"/><rect x="938" y="334" width="3" height="4" fill="#528B25"/><rect x="943" y="278" width="1" height="62" fill="#528B25"/><rect x="942" y="281" width="3" height="54" fill="#528B25"/><rect x="947" y="271" width="1" height="21" fill="#EE4418"/><rect x="946" y="281" width="3" height="11" fill="#EE4418"/><rect x="951" y="274" width="1" height="39" fill="#528B25"/><rect x="950" y="293" width="3" height="1" fill="#528B25"/><rect x="955" y="285" width="1" height="19" fill="#528B25"/><rect x="954" y="291" width="3" height="3" fill="#528B25"/><rect x="959" y="286" width="1" height="25" fill="#EE4418"/><rect x="958" y="291" width="3" height="9" fill="#EE4418"/><rect x="963" y="296" width="1" height="23" fill="#EE4418"/><rect x="962" y="299" width="3" height="17" fill="#EE4418"/><rect x="967" y="295" width="1" height="22" fill="#528B25"/><rect x="966" y="304" width="3" height="12" fill="#528B25"/><rect x="971" y="298" width="1" height="27" fill="#EE4418"/><rect x="970" y="304" width="3" height="7" fill="#EE4418"/><rect x="975" y="289" width="1" height="47" fill="#EE4418"/><rect x="974" y="304" width="3" height="13" fill="#EE4418"/><rect x="979" y="287" width="1" height="30" fill="#528B25"/><rect x="978" y="297" width="3" height="20" fill="#528B25"/><rect x="983" y="288" width="1" height="37" fill="#EE4418"/><rect x="982" y="298" width="3" height="27" fill="#EE4418"/><rect x="987" y="318" width="1" height="32" fill="#EE4418"/><rect x="986" y="324" width="3" height="15" fill="#EE4418"/><rect x="991" y="327" width="1" height="26" fill="#EE4418"/><rect x="990" y="338" width="3" height="10" fill="#EE4418"/><rect x="995" y="324" width="1" height="36" fill="#528B25"/><rect x="994" y="334" width="3" height="14" fill="#528B25"/><rect x="999" y="321" width="1" height="30" fill="#528B25"/><rect x="998" y="331" width="3" height="2" fill="#528B25"/><rect x="1003" y="331" width="1" height="13" fill="#EE4418"/><rect x="1002" y="331" width="3" height="4" fill="#EE4418"/><rect x="1007" y="333" width="1" height="43" fill="#EE4418"/><rect x="1006" y="334" width="3" height="25" fill="#EE4418"/><rect x="1011" y="354" width="1" height="17" fill="#EE4418"/><rect x="1010" y="358" width="3" height="10" fill="#EE4418"/><rect x="1015" y="321" width="1" height="50" fill="#528B25"/><rect x="1014" y="349" width="3" height="20" fill="#528B25"/><rect x="1019" y="349" width="1" height="14" fill="#EE4418"/><rect x="1018" y="349" width="3" height="14" fill="#EE4418"/><rect x="1023" y="344" width="1" height="18" fill="#528B25"/><rect x="1022" y="347" width="3" height="15" fill="#528B25"/><rect x="1027" y="343" width="1" height="14" fill="#528B25"/><rect x="1026" y="346" width="3" height="2" fill="#528B25"/><rect x="1031" y="323" width="1" height="26" fill="#528B25"/><rect x="1030" y="332" width="3" height="14" fill="#528B25"/><rect x="1035" y="323" width="1" height="38" fill="#EE4418"/><rect x="1034" y="332" width="3" height="27" fill="#EE4418"/><rect x="1039" y="343" width="1" height="32" fill="#EE4418"/><rect x="1038" y="358" width="3" height="5" fill="#EE4418"/><rect x="1043" y="349" width="1" height="20" fill="#528B25"/><rect x="1042" y="355" width="3" height="8" fill="#528B25"/><rect x="1047" y="351" width="1" height="16" fill="#EE4418"/><rect x="1046" y="355" width="3" height="10" fill="#EE4418"/><rect x="1051" y="355" width="1" height="11" fill="#528B25"/><rect x="1050" y="356" width="3" height="10" fill="#528B25"/><rect x="1055" y="354" width="1" height="24" fill="#EE4418"/><rect x="1054" y="357" width="3" height="19" fill="#EE4418"/><rect x="1059" y="375" width="1" height="21" fill="#EE4418"/><rect x="1058" y="375" width="3" height="15" fill="#EE4418"/><rect x="1063" y="377" width="1" height="16" fill="#528B25"/><rect x="1062" y="388" width="3" height="2" fill="#528B25"/><rect x="1067" y="382" width="1" height="12" fill="#528B25"/><rect x="1066" y="386" width="3" height="3" fill="#528B25"/><rect x="1071" y="369" width="1" height="23" fill="#528B25"/><rect x="1070" y="373" width="3" height="7" fill="#528B25"/><rect x="1075" y="371" width="1" height="12" fill="#EE4418"/><rect x="1074" y="373" width="3" height="7" fill="#EE4418"/><rect x="1079" y="354" width="1" height="27" fill="#528B25"/><rect x="1078" y="355" width="3" height="25" fill="#528B25"/><rect x="1083" y="338" width="1" height="19" fill="#528B25"/><rect x="1082" y="339" width="3" height="17" fill="#528B25"/><rect x="1087" y="329" width="1" height="20" fill="#EE4418"/><rect x="1086" y="339" width="3" height="2" fill="#EE4418"/><rect x="1091" y="340" width="1" height="10" fill="#EE4418"/><rect x="1090" y="340" width="3" height="4" fill="#EE4418"/><rect x="1095" y="333" width="1" height="21" fill="#528B25"/><rect x="1094" y="341" width="3" height="9" fill="#528B25"/><rect x="1099" y="316" width="1" height="27" fill="#528B25"/><rect x="1098" y="318" width="3" height="24" fill="#528B25"/><rect x="1103" y="300" width="1" height="23" fill="#EE4418"/><rect x="1102" y="318" width="3" height="3" fill="#EE4418"/><rect x="1107" y="303" width="1" height="21" fill="#528B25"/><rect x="1106" y="309" width="3" height="12" fill="#528B25"/><rect x="1111" y="301" width="1" height="26" fill="#EE4418"/><rect x="1110" y="309" width="3" height="5" fill="#EE4418"/><rect x="1115" y="311" width="1" height="14" fill="#EE4418"/><rect x="1114" y="313" width="3" height="10" fill="#EE4418"/><rect x="1119" y="317" width="1" height="25" fill="#EE4418"/><rect x="1118" y="322" width="3" height="18" fill="#EE4418"/><rect x="1123" y="329" width="1" height="13" fill="#528B25"/><rect x="1122" y="331" width="3" height="9" fill="#528B25"/><rect x="1127" y="324" width="1" height="18" fill="#EE4418"/><rect x="1126" y="331" width="3" height="7" fill="#EE4418"/><rect x="11" y="52" width="1" height="5" fill="#FBE6DE"/><rect x="207" y="68" width="1" height="3" fill="#FBE6DE"/></g>
</g>
<line x1="3" y1="643.5" x2="1154" y2="643.5" stroke="#C0C0C0" stroke-width="1" stroke-dasharray="3 3" shape-rendering="crispEdges"/>
<line x1="3" y1="674.5" x2="1154" y2="674.5" stroke="#C0C0C0" stroke-width="1" stroke-dasharray="3 3" shape-rendering="crispEdges"/>
<polyline points="2.5,673.0 8.3,674.7 15.0,674.3 19.2,670.2 23.3,673.5 27.5,673.2 30.8,660.2 34.2,658.0 39.2,657.0 43.7,660.3 47.5,654.3 51.7,659.0 55.8,664.3 60.0,663.2 67.5,663.2 71.7,667.3 75.3,661.3 79.2,666.0 83.3,667.0 87.5,668.0 90.8,669.0 95.0,676.8 100.0,678.5 106.7,679.3 113.3,674.7 118.3,674.3 123.3,678.0 128.0,680.3 133.3,678.5 139.2,673.5 143.3,673.2 150.0,669.7 155.3,669.3 159.7,647.0 163.3,649.0 166.7,646.8 170.8,645.2 175.0,650.2 179.2,649.3 183.3,654.3 187.5,655.3 191.7,654.3 195.0,654.3 196.0,655.2 199.3,658.0 203.5,660.2 209.3,660.2 211.8,661.3 215.2,661.3 219.0,659.0 222.7,661.0 226.8,662.3 231.3,659.3 236.0,661.3 239.7,660.3 243.5,664.3 247.7,658.3 251.0,659.3 255.7,668.5 259.3,665.3 263.5,671.3 269.3,673.0 275.2,674.0 279.3,670.3 283.5,670.2 287.3,664.3 291.8,669.3 295.7,673.5 299.3,667.3 303.5,672.3 307.7,672.7 311.8,675.7 315.7,677.7 319.3,675.2 324.3,676.3 329.3,678.0 335.2,680.7 339.7,676.0 343.5,663.5 347.7,664.3 351.8,669.3 356.0,671.5 359.3,670.3 363.5,669.3 367.3,658.5 371.3,662.3 375.7,659.3 379.3,662.3 383.5,665.2 387.3,667.3 391.3,663.5 392.0,663.5 395.3,664.7 399.5,666.3 403.3,664.3 407.0,666.0 411.2,668.3 415.3,669.7 419.5,669.7 423.3,670.3 427.3,667.3 431.7,659.7 435.7,657.0 439.5,660.2 443.7,663.7 447.8,670.3 451.7,675.7 455.7,671.3 459.5,673.3 463.3,674.7 467.3,669.3 471.2,671.3 475.0,672.7 479.5,663.5 482.8,662.3 487.0,663.7 492.0,663.7 495.7,664.7 499.5,663.0 503.3,661.3 507.3,660.3 511.3,654.7 515.3,659.7 519.0,658.5 523.3,658.5 527.3,655.3 531.2,657.0 535.3,658.7 539.5,654.7 543.3,657.3 551.7,649.7 555.3,657.3 559.5,656.3 563.3,655.3 567.3,652.7 571.3,653.5 575.3,645.2 579.5,647.3 583.7,647.3 587.3,647.3 588.0,651.0 591.0,671.3 595.0,663.5 599.7,656.0 603.8,653.0 607.7,652.3 611.7,656.0 615.5,657.0 619.7,661.3 623.8,657.0 627.7,659.0 631.7,664.7 635.5,663.0 639.7,661.3 643.8,660.3 647.7,656.3 651.7,656.3 655.5,659.3 659.7,662.3 663.8,664.3 667.7,663.3 671.3,666.0 675.5,670.2 679.7,672.7 683.8,675.3 687.7,674.3 691.3,675.3 695.5,671.0 699.3,673.0 703.3,678.3 707.3,676.3 711.3,678.3 715.5,676.3 719.7,677.3 723.3,676.3 727.7,671.0 731.7,673.7 735.5,668.5 739.7,671.3 743.3,675.2 747.7,676.3 751.3,677.3 755.5,676.3 763.3,676.3 767.3,681.0 771.3,683.3 775.5,686.3 779.7,686.3 783.3,690.2 784.0,689.3 787.7,683.0 791.5,675.2 795.7,666.0 799.8,667.3 803.7,671.3 807.7,665.3 811.5,665.3 815.7,662.3 819.3,665.0 823.7,666.3 827.7,666.3 832.0,670.3 835.7,668.3 839.3,669.3 843.7,663.3 847.7,663.3 851.5,665.3 855.7,659.3 859.3,659.3 863.7,656.3 867.3,657.0 871.5,659.3 875.3,656.3 879.3,656.3 883.7,652.0 887.7,652.0 891.5,657.3 895.3,656.0 899.3,655.3 903.3,660.3 907.3,658.3 911.5,655.3 916.5,650.2 919.8,649.3 923.7,651.3 927.7,648.3 931.5,648.3 935.7,651.3 939.3,651.3 943.7,645.2 947.3,647.3 951.5,648.3 955.3,647.0 959.3,649.3 963.3,652.3 967.3,651.3 971.5,652.3 975.7,653.3 979.3,650.3 980.0,651.0 983.3,656.0 987.5,659.3 991.3,660.3 995.3,658.0 999.7,657.0 1003.3,658.3 1007.5,663.3 1011.3,664.7 1015.3,660.3 1019.7,663.3 1023.7,659.3 1027.5,659.3 1031.7,656.3 1035.8,662.3 1039.7,662.3 1043.7,661.0 1047.5,663.3 1051.3,661.3 1055.3,664.3 1059.7,667.3 1063.3,667.3 1067.5,666.0 1071.7,662.3 1075.3,664.3 1079.7,657.0 1083.7,654.3 1087.5,654.3 1091.3,655.3 1095.3,655.3 1099.3,649.3 1103.3,650.3 1107.5,648.3 1111.7,649.3 1115.3,652.3 1119.7,658.3 1123.7,655.3 1126.7,656.3" fill="none" stroke="#0A640A" stroke-width="1" stroke-linejoin="round" shape-rendering="crispEdges"/>
<g fill="#2F4F4F" shape-rendering="crispEdges"><rect x="3" y="726" width="1" height="9"/><rect x="7" y="726" width="1" height="8"/><rect x="11" y="726" width="1" height="8"/><rect x="15" y="726" width="1" height="8"/><rect x="19" y="726" width="1" height="7"/><rect x="23" y="726" width="1" height="7"/><rect x="27" y="726" width="1" height="7"/><rect x="31" y="726" width="1" height="7"/><rect x="35" y="726" width="1" height="6"/><rect x="39" y="726" width="1" height="5"/><rect x="43" y="726" width="1" height="4"/><rect x="47" y="726" width="1" height="2"/><rect x="51" y="726" width="1" height="2"/><rect x="55" y="726" width="1" height="1"/><rect x="59" y="726" width="1" height="1"/><rect x="63" y="726" width="1" height="1"/><rect x="67" y="726" width="1" height="1"/><rect x="71" y="726" width="1" height="1"/><rect x="75" y="726" width="1" height="1"/><rect x="79" y="726" width="1" height="1"/><rect x="83" y="726" width="1" height="1"/><rect x="87" y="726" width="1" height="2"/><rect x="91" y="726" width="1" height="3"/><rect x="95" y="726" width="1" height="4"/><rect x="99" y="726" width="1" height="6"/><rect x="103" y="726" width="1" height="6"/><rect x="107" y="726" width="1" height="7"/><rect x="111" y="726" width="1" height="7"/><rect x="115" y="726" width="1" height="7"/><rect x="119" y="726" width="1" height="8"/><rect x="123" y="726" width="1" height="8"/><rect x="127" y="726" width="1" height="8"/><rect x="131" y="726" width="1" height="9"/><rect x="135" y="726" width="1" height="9"/><rect x="139" y="726" width="1" height="9"/><rect x="143" y="726" width="1" height="9"/><rect x="147" y="726" width="1" height="9"/><rect x="151" y="726" width="1" height="9"/><rect x="155" y="726" width="1" height="8"/><rect x="159" y="726" width="1" height="7"/><rect x="163" y="726" width="1" height="4"/><rect x="167" y="726" width="1" height="1"/><rect x="171" y="726" width="1" height="1"/><rect x="175" y="725" width="1" height="1"/><rect x="179" y="725" width="1" height="1"/><rect x="183" y="725" width="1" height="1"/><rect x="187" y="725" width="1" height="1"/><rect x="191" y="725" width="1" height="1"/><rect x="195" y="725" width="1" height="1"/><rect x="199" y="725" width="1" height="1"/><rect x="203" y="725" width="1" height="1"/><rect x="207" y="725" width="1" height="1"/><rect x="211" y="725" width="1" height="1"/><rect x="215" y="725" width="1" height="1"/><rect x="219" y="725" width="1" height="1"/><rect x="223" y="725" width="1" height="1"/><rect x="227" y="725" width="1" height="1"/><rect x="231" y="726" width="1" height="1"/><rect x="235" y="726" width="1" height="1"/><rect x="239" y="726" width="1" height="1"/><rect x="243" y="726" width="1" height="1"/><rect x="247" y="726" width="1" height="1"/><rect x="251" y="726" width="1" height="1"/><rect x="255" y="726" width="1" height="1"/><rect x="259" y="726" width="1" height="2"/><rect x="263" y="726" width="1" height="2"/><rect x="267" y="726" width="1" height="3"/><rect x="271" y="726" width="1" height="4"/><rect x="275" y="726" width="1" height="4"/><rect x="279" y="726" width="1" height="4"/><rect x="283" y="726" width="1" height="5"/><rect x="287" y="726" width="1" height="5"/><rect x="291" y="726" width="1" height="5"/><rect x="295" y="726" width="1" height="6"/><rect x="299" y="726" width="1" height="6"/><rect x="303" y="726" width="1" height="6"/><rect x="307" y="726" width="1" height="6"/><rect x="311" y="726" width="1" height="7"/><rect x="315" y="726" width="1" height="7"/><rect x="319" y="726" width="1" height="8"/><rect x="323" y="726" width="1" height="8"/><rect x="327" y="726" width="1" height="9"/><rect x="331" y="726" width="1" height="9"/><rect x="335" y="726" width="1" height="10"/><rect x="339" y="726" width="1" height="9"/><rect x="343" y="726" width="1" height="9"/><rect x="347" y="726" width="1" height="9"/><rect x="351" y="726" width="1" height="9"/><rect x="355" y="726" width="1" height="9"/><rect x="359" y="726" width="1" height="9"/><rect x="363" y="726" width="1" height="8"/><rect x="367" y="726" width="1" height="7"/><rect x="371" y="726" width="1" height="6"/><rect x="375" y="726" width="1" height="6"/><rect x="379" y="726" width="1" height="5"/><rect x="383" y="726" width="1" height="5"/><rect x="387" y="726" width="1" height="5"/><rect x="391" y="726" width="1" height="5"/><rect x="395" y="726" width="1" height="6"/><rect x="399" y="726" width="1" height="6"/><rect x="403" y="726" width="1" height="5"/><rect x="407" y="726" width="1" height="5"/><rect x="411" y="726" width="1" height="5"/><rect x="415" y="726" width="1" height="5"/><rect x="419" y="726" width="1" height="6"/><rect x="423" y="726" width="1" height="6"/><rect x="427" y="726" width="1" height="6"/><rect x="431" y="726" width="1" height="6"/><rect x="435" y="726" width="1" height="5"/><rect x="439" y="726" width="1" height="5"/><rect x="443" y="726" width="1" height="5"/><rect x="447" y="726" width="1" height="6"/><rect x="451" y="726" width="1" height="6"/><rect x="455" y="726" width="1" height="7"/><rect x="459" y="726" width="1" height="7"/><rect x="463" y="726" width="1" height="8"/><rect x="467" y="726" width="1" height="9"/><rect x="471" y="726" width="1" height="9"/><rect x="475" y="726" width="1" height="9"/><rect x="479" y="726" width="1" height="9"/><rect x="483" y="726" width="1" height="8"/><rect x="487" y="726" width="1" height="8"/><rect x="491" y="726" width="1" height="8"/><rect x="495" y="726" width="1" height="7"/><rect x="499" y="726" width="1" height="7"/><rect x="503" y="726" width="1" height="6"/><rect x="507" y="726" width="1" height="6"/><rect x="511" y="726" width="1" height="5"/><rect x="515" y="726" width="1" height="4"/><rect x="519" y="726" width="1" height="3"/><rect x="523" y="726" width="1" height="2"/><rect x="527" y="726" width="1" height="2"/><rect x="531" y="726" width="1" height="1"/><rect x="535" y="726" width="1" height="1"/><rect x="539" y="726" width="1" height="1"/><rect x="543" y="725" width="1" height="1"/><rect x="547" y="725" width="1" height="1"/><rect x="551" y="725" width="1" height="1"/><rect x="555" y="724" width="1" height="2"/><rect x="559" y="724" width="1" height="2"/><rect x="563" y="724" width="1" height="2"/><rect x="567" y="724" width="1" height="2"/><rect x="571" y="723" width="1" height="3"/><rect x="575" y="723" width="1" height="3"/><rect x="579" y="722" width="1" height="4"/><rect x="583" y="721" width="1" height="5"/><rect x="587" y="722" width="1" height="4"/><rect x="591" y="723" width="1" height="3"/><rect x="595" y="724" width="1" height="2"/><rect x="599" y="725" width="1" height="1"/><rect x="603" y="723" width="1" height="3"/><rect x="607" y="722" width="1" height="4"/><rect x="611" y="722" width="1" height="4"/><rect x="615" y="723" width="1" height="3"/><rect x="619" y="724" width="1" height="2"/><rect x="623" y="724" width="1" height="2"/><rect x="627" y="725" width="1" height="1"/><rect x="631" y="725" width="1" height="1"/><rect x="635" y="726" width="1" height="1"/><rect x="639" y="726" width="1" height="1"/><rect x="643" y="726" width="1" height="1"/><rect x="647" y="726" width="1" height="1"/><rect x="651" y="726" width="1" height="1"/><rect x="655" y="726" width="1" height="1"/><rect x="659" y="726" width="1" height="2"/><rect x="663" y="726" width="1" height="2"/><rect x="667" y="726" width="1" height="3"/><rect x="671" y="726" width="1" height="3"/><rect x="675" y="726" width="1" height="6"/><rect x="679" y="726" width="1" height="9"/><rect x="683" y="726" width="1" height="12"/><rect x="687" y="726" width="1" height="14"/><rect x="691" y="726" width="1" height="15"/><rect x="695" y="726" width="1" height="16"/><rect x="699" y="726" width="1" height="17"/><rect x="703" y="726" width="1" height="19"/><rect x="707" y="726" width="1" height="21"/><rect x="711" y="726" width="1" height="23"/><rect x="715" y="726" width="1" height="24"/><rect x="719" y="726" width="1" height="24"/><rect x="723" y="726" width="1" height="23"/><rect x="727" y="726" width="1" height="23"/><rect x="731" y="726" width="1" height="23"/><rect x="735" y="726" width="1" height="23"/><rect x="739" y="726" width="1" height="23"/><rect x="743" y="726" width="1" height="23"/><rect x="747" y="726" width="1" height="24"/><rect x="751" y="726" width="1" height="24"/><rect x="755" y="726" width="1" height="24"/><rect x="759" y="726" width="1" height="25"/><rect x="763" y="726" width="1" height="25"/><rect x="767" y="726" width="1" height="27"/><rect x="771" y="726" width="1" height="29"/><rect x="775" y="726" width="1" height="32"/><rect x="779" y="726" width="1" height="36"/><rect x="783" y="726" width="1" height="44"/><rect x="787" y="726" width="1" height="47"/><rect x="791" y="726" width="1" height="49"/><rect x="795" y="726" width="1" height="45"/><rect x="799" y="726" width="1" height="42"/><rect x="803" y="726" width="1" height="42"/><rect x="807" y="726" width="1" height="40"/><rect x="811" y="726" width="1" height="36"/><rect x="815" y="726" width="1" height="33"/><rect x="819" y="726" width="1" height="31"/><rect x="823" y="726" width="1" height="30"/><rect x="827" y="726" width="1" height="30"/><rect x="831" y="726" width="1" height="30"/><rect x="835" y="726" width="1" height="30"/><rect x="839" y="726" width="1" height="30"/><rect x="843" y="726" width="1" height="28"/><rect x="847" y="726" width="1" height="25"/><rect x="851" y="726" width="1" height="24"/><rect x="855" y="726" width="1" height="19"/><rect x="859" y="726" width="1" height="16"/><rect x="863" y="726" width="1" height="13"/><rect x="867" y="726" width="1" height="11"/><rect x="871" y="726" width="1" height="9"/><rect x="875" y="726" width="1" height="6"/><rect x="879" y="726" width="1" height="4"/><rect x="883" y="726" width="1" height="1"/><rect x="887" y="725" width="1" height="1"/><rect x="891" y="725" width="1" height="1"/><rect x="895" y="724" width="1" height="2"/><rect x="899" y="723" width="1" height="3"/><rect x="903" y="724" width="1" height="2"/><rect x="907" y="725" width="1" height="1"/><rect x="911" y="724" width="1" height="2"/><rect x="915" y="721" width="1" height="5"/><rect x="919" y="718" width="1" height="8"/><rect x="923" y="716" width="1" height="10"/><rect x="927" y="715" width="1" height="11"/><rect x="931" y="712" width="1" height="14"/><rect x="935" y="712" width="1" height="14"/><rect x="939" y="711" width="1" height="15"/><rect x="943" y="709" width="1" height="17"/><rect x="947" y="707" width="1" height="19"/><rect x="951" y="706" width="1" height="20"/><rect x="955" y="706" width="1" height="20"/><rect x="959" y="706" width="1" height="20"/><rect x="963" y="708" width="1" height="18"/><rect x="967" y="708" width="1" height="18"/><rect x="971" y="709" width="1" height="17"/><rect x="975" y="711" width="1" height="15"/><rect x="979" y="711" width="1" height="15"/><rect x="983" y="713" width="1" height="13"/><rect x="987" y="715" width="1" height="11"/><rect x="991" y="718" width="1" height="8"/><rect x="995" y="719" width="1" height="7"/><rect x="999" y="720" width="1" height="6"/><rect x="1003" y="721" width="1" height="5"/><rect x="1007" y="723" width="1" height="3"/><rect x="1011" y="725" width="1" height="1"/><rect x="1015" y="726" width="1" height="1"/><rect x="1019" y="726" width="1" height="1"/><rect x="1023" y="726" width="1" height="1"/><rect x="1027" y="725" width="1" height="1"/><rect x="1031" y="726" width="1" height="1"/><rect x="1035" y="726" width="1" height="1"/><rect x="1039" y="726" width="1" height="2"/><rect x="1043" y="726" width="1" height="2"/><rect x="1047" y="726" width="1" height="2"/><rect x="1051" y="726" width="1" height="3"/><rect x="1055" y="726" width="1" height="4"/><rect x="1059" y="726" width="1" height="6"/><rect x="1063" y="726" width="1" height="6"/><rect x="1067" y="726" width="1" height="6"/><rect x="1071" y="726" width="1" height="6"/><rect x="1075" y="726" width="1" height="6"/><rect x="1079" y="726" width="1" height="6"/><rect x="1083" y="726" width="1" height="4"/><rect x="1087" y="726" width="1" height="2"/><rect x="1091" y="726" width="1" height="1"/><rect x="1095" y="726" width="1" height="1"/><rect x="1099" y="725" width="1" height="1"/><rect x="1103" y="724" width="1" height="2"/><rect x="1107" y="722" width="1" height="4"/><rect x="1111" y="721" width="1" height="5"/><rect x="1115" y="721" width="1" height="5"/><rect x="1119" y="722" width="1" height="4"/><rect x="1123" y="722" width="1" height="4"/><rect x="1127" y="722" width="1" height="4"/></g>
<polyline points="3.3,735.8 16.7,735.0 33.3,733.3 50.0,730.8 66.7,729.7 83.3,729.2 100.0,730.3 116.7,732.5 133.3,734.2 150.0,734.7 160.0,734.2 166.7,732.5 173.3,730.0 183.3,727.5 191.7,725.8 195.8,725.5 201.0,725.3 229.3,725.8 254.3,726.7 271.0,728.7 287.7,730.8 304.3,732.0 321.0,733.7 337.7,735.3 354.3,735.7 366.0,735.3 379.3,733.7 387.7,733.0 391.8,732.3 395.3,732.3 408.7,731.7 425.3,732.0 442.0,731.7 458.7,732.5 472.0,734.2 485.3,735.3 498.7,734.7 512.0,732.5 525.3,730.3 538.7,728.3 548.7,726.7 558.7,725.8 567.0,725.3 575.3,724.7 583.7,723.7 587.8,723.0 591.3,722.2 598.0,722.5 611.3,722.5 629.7,723.3 643.0,725.3 658.0,726.7 671.3,728.3 681.3,730.0 688.0,732.5 696.3,736.7 704.7,739.2 713.0,743.0 721.3,745.8 729.7,748.0 738.0,749.2 754.7,749.7 764.7,750.0 771.3,751.3 779.7,753.7 783.8,755.8 784.0,756.7 790.7,760.8 797.3,765.8 804.0,768.3 814.0,768.7 820.7,766.7 827.3,763.0 834.0,760.3 842.3,757.5 850.7,755.3 859.0,752.0 867.3,748.0 875.7,743.7 884.0,737.5 892.3,732.0 899.0,728.3 905.7,726.7 914.0,724.2 922.3,721.7 930.7,718.3 939.0,715.3 947.3,711.7 955.7,709.2 964.0,708.0 972.3,707.5 979.0,707.7 980.0,707.5 988.3,709.2 996.7,712.0 1005.0,715.0 1013.3,718.0 1021.7,721.7 1030.0,724.2 1038.3,726.3 1046.7,726.7 1055.0,728.0 1063.3,729.7 1071.7,730.8 1080.0,731.7 1088.3,731.7 1096.7,730.8 1103.3,729.7 1110.0,726.7 1116.7,725.3 1123.3,723.3 1127.5,722.5" fill="none" stroke="#CC323C" stroke-width="1" stroke-linejoin="round" stroke-dasharray="3 3" shape-rendering="crispEdges"/>
<g fill="#191970" shape-rendering="crispEdges"><rect x="1155" y="19" width="2" height="1"/><rect x="1155" y="52" width="2" height="1"/><rect x="1155" y="85" width="2" height="1"/><rect x="1155" y="118" width="2" height="1"/><rect x="1155" y="151" width="2" height="1"/><rect x="1155" y="184" width="2" height="1"/><rect x="1155" y="217" width="2" height="1"/><rect x="1155" y="250" width="2" height="1"/><rect x="1155" y="283" width="2" height="1"/><rect x="1155" y="316" width="2" height="1"/><rect x="1155" y="349" width="2" height="1"/><rect x="1155" y="382" width="2" height="1"/><rect x="1155" y="415" width="2" height="1"/><rect x="1155" y="448" width="2" height="1"/><rect x="1155" y="481" width="2" height="1"/><rect x="1155" y="514" width="2" height="1"/><rect x="1155" y="547" width="2" height="1"/><rect x="1155" y="580" width="2" height="1"/><rect x="1155" y="613" width="2" height="1"/><rect x="1155" y="620" width="1.3" height="1"/><rect x="1155" y="643" width="1.3" height="1"/><rect x="1155" y="674" width="1.3" height="1"/><rect x="1155" y="697" width="1.3" height="1"/><rect x="1155" y="702" width="1.3" height="1"/><rect x="1155" y="726" width="1.3" height="1"/><rect x="1155" y="778" width="1.3" height="1"/><rect x="3" y="780" width="1" height="3"/><rect x="67" y="780" width="1" height="3"/><rect x="131" y="780" width="1" height="3"/><rect x="195" y="780" width="1" height="3"/><rect x="259" y="780" width="1" height="3"/><rect x="323" y="780" width="1" height="3"/><rect x="387" y="780" width="1" height="3"/><rect x="451" y="780" width="1" height="3"/><rect x="515" y="780" width="1" height="3"/><rect x="579" y="780" width="1" height="3"/><rect x="643" y="780" width="1" height="3"/><rect x="707" y="780" width="1" height="3"/><rect x="771" y="780" width="1" height="3"/><rect x="835" y="780" width="1" height="3"/><rect x="899" y="780" width="1" height="3"/><rect x="963" y="780" width="1" height="3"/><rect x="1027" y="780" width="1" height="3"/><rect x="1091" y="780" width="1" height="3"/></g>
<rect x="1156" y="332" width="41" height="11" fill="#191970" shape-rendering="crispEdges"/>
<g fill="#191970" stroke="#191970" stroke-width="0.28" font-size="9.6px"><text transform="translate(1160,22.6) scale(0.967,1)" >0.65255</text><text transform="translate(1160,55.6) scale(0.967,1)" >0.64655</text><text transform="translate(1160,88.6) scale(0.967,1)" >0.64055</text><text transform="translate(1160,121.6) scale(0.967,1)" >0.63455</text><text transform="translate(1160,154.6) scale(0.967,1)" >0.62855</text><text transform="translate(1160,187.6) scale(0.967,1)" >0.62255</text><text transform="translate(1160,220.6) scale(0.967,1)" >0.61655</text><text transform="translate(1160,253.6) scale(0.967,1)" >0.61055</text><text transform="translate(1160,286.6) scale(0.967,1)" >0.60455</text><text transform="translate(1160,319.6) scale(0.967,1)" >0.59855</text><text transform="translate(1160,352.6) scale(0.967,1)" >0.59255</text><text transform="translate(1160,385.6) scale(0.967,1)" >0.58655</text><text transform="translate(1160,418.6) scale(0.967,1)" >0.58055</text><text transform="translate(1160,451.6) scale(0.967,1)" >0.57455</text><text transform="translate(1160,484.6) scale(0.967,1)" >0.56855</text><text transform="translate(1160,517.6) scale(0.967,1)" >0.56255</text><text transform="translate(1160,550.6) scale(0.967,1)" >0.55655</text><text transform="translate(1160,583.6) scale(0.967,1)" >0.55055</text><text transform="translate(1160,616.6) scale(0.967,1)" >0.54455</text><text transform="translate(1158,628.9) scale(0.967,1)" >100</text><text transform="translate(1158,647.1) scale(0.967,1)" >70</text><text transform="translate(1158,678.3000000000001) scale(0.967,1)" >30</text><text transform="translate(1158,694.6) scale(0.967,1)" >0</text><text transform="translate(1158,710.8000000000001) scale(0.967,1)" >0.006803</text><text transform="translate(1158,729.8000000000001) scale(0.967,1)" >0.00</text><text transform="translate(1158,775.9) scale(0.967,1)" ><tspan font-size="7.5px">-</tspan><tspan dx="0.3">0.014304</tspan></text><text transform="translate(1.7,792) scale(0.967,1)" >3 Feb 2020</text><text transform="translate(65.7,792) scale(0.967,1)" >6 Feb 04:00</text><text transform="translate(129.7,792) scale(0.967,1)" >10 Feb 20:00</text><text transform="translate(193.7,792) scale(0.967,1)" >13 Feb 12:00</text><text transform="translate(257.7,792) scale(0.967,1)" >18 Feb 04:00</text><text transform="translate(321.7,792) scale(0.967,1)" >20 Feb 20:00</text><text transform="translate(385.7,792) scale(0.967,1)" >25 Feb 12:00</text><text transform="translate(449.7,792) scale(0.967,1)" >28 Feb 04:00</text><text transform="translate(513.7,792) scale(0.967,1)" >3 Mar 20:00</text><text transform="translate(577.7,792) scale(0.967,1)" >6 Mar 12:00</text><text transform="translate(641.7,792) scale(0.967,1)" >11 Mar 04:00</text><text transform="translate(705.7,792) scale(0.967,1)" >13 Mar 20:00</text><text transform="translate(769.7,792) scale(0.967,1)" >18 Mar 12:00</text><text transform="translate(833.7,792) scale(0.967,1)" >23 Mar 04:00</text><text transform="translate(897.7,792) scale(0.967,1)" >25 Mar 20:00</text><text transform="translate(961.7,792) scale(0.967,1)" >30 Mar 12:00</text><text transform="translate(1025.7,792) scale(0.967,1)" >2 Apr 04:00</text><text transform="translate(1089.7,792) scale(0.967,1)" >6 Apr 20:00</text><text transform="translate(18.8,13.8) scale(0.967,1)" xml:space="preserve">NZDUSD,H4  0.59583 0.59713 0.59391 0.59475</text><text transform="translate(7.5,631) scale(0.967,1)" >RSI(14) 51.6969</text><text transform="translate(7.5,712.8) scale(0.967,1)" >MACD(12,26,9) 0.001271 0.001147</text></g>
<g fill="#fff" font-size="9.6px"><text transform="translate(1160,340.8) scale(0.967,1)" >0.59475</text></g>
<path d="M6 9 L13 9 L9.5 13 Z" fill="#191970"/>
</svg>
</body></html>
